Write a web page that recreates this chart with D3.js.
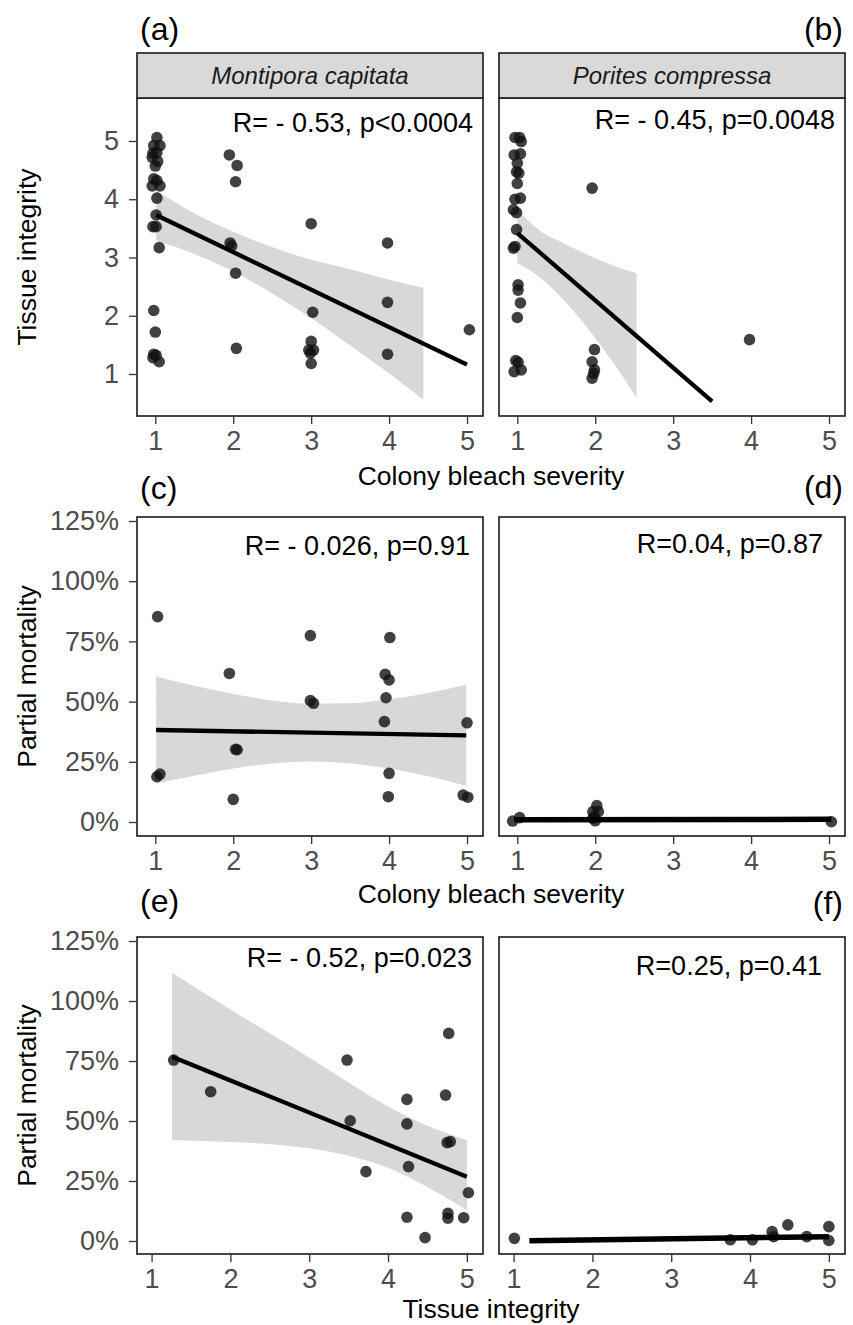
<!DOCTYPE html>
<html>
<head>
<meta charset="utf-8">
<script src="https://cdn.jsdelivr.net/npm/d3@7"></script>
<style>
  body { margin: 0; background: #fff; }
  svg text { font-family: "Liberation Sans", Arial, Helvetica, sans-serif; }
</style>
</head>
<body>
<div class="canvas"></div>
<script>
/////////////////////////////////////////////////////
////////// values ///////////////
/////////////////////////////////////////////////////

const severityTicks = [1, 2, 3, 4, 5];
const integrityTicks = [1, 2, 3, 4, 5];
const mortalityTicks = [0, 25, 50, 75, 100, 125];
const speciesNames = ['Montipora capitata', 'Porites compressa'];
const panelTags = ['(a)', '(b)', '(c)', '(d)', '(e)', '(f)'];
const statLabels = ['R= - 0.53, p<0.0004', 'R= - 0.45, p=0.0048', 'R= - 0.026, p=0.91',
                    'R=0.04, p=0.87', 'R= - 0.52, p=0.023', 'R=0.25, p=0.41'];

// (a) M. capitata : bleach severity (jittered) vs tissue integrity
const aSeverity = [1.02, 0.98, 1.06, 0.97, 1.02, 0.96, 1.03, 1.00, 0.98, 1.02, 0.96, 1.06, 1.02, 1.01, 0.97, 1.01, 1.05, 0.98, 1.00, 0.98, 1.01, 0.97, 1.05,
                   1.95, 2.05, 2.03, 1.96, 1.98, 2.03, 2.04, 3.00, 3.02, 3.00, 2.97, 3.03, 2.99, 3.00, 3.98, 3.98, 3.98, 5.03];
const aIntegrity = [5.06, 4.92, 4.92, 4.79, 4.80, 4.72, 4.65, 4.57, 4.35, 4.32, 4.23, 4.23, 4.02, 3.73, 3.53, 3.53, 3.17, 2.09, 1.72, 1.34, 1.32, 1.28, 1.21,
                    4.76, 4.58, 4.30, 3.25, 3.20, 2.73, 1.44, 3.58, 2.06, 1.56, 1.41, 1.41, 1.36, 1.18, 3.25, 2.23, 1.34, 1.76];
const aFitX = [1.01, 5.00], aFitY = [3.73, 1.16];
const aBandX = [1.01, 1.5, 2, 2.5, 3, 3.5, 4, 4.44];
const aBandLo = [3.29, 3.06, 2.76, 2.38, 1.96, 1.49, 1.01, 0.56];
const aBandHi = [4.15, 3.76, 3.44, 3.18, 2.96, 2.80, 2.62, 2.48];

// (b) P. compressa : bleach severity vs tissue integrity
const bSeverity = [0.97, 1.03, 1.05, 0.96, 1.04, 1.00, 0.99, 1.02, 1.00, 0.97, 1.04, 0.95, 0.99, 0.99, 0.95, 0.97, 1.01, 1.01, 1.04, 1.00, 0.98, 1.01, 0.96, 1.05,
                   1.96, 1.99, 1.96, 1.99, 1.98, 1.96, 3.98];
const bIntegrity = [5.06, 5.06, 4.99, 4.76, 4.78, 4.62, 4.47, 4.45, 4.27, 4.00, 4.02, 3.82, 3.77, 3.48, 3.16, 3.19, 2.53, 2.44, 2.22, 1.97, 1.23, 1.20, 1.04, 1.07,
                    4.19, 1.42, 1.21, 1.07, 1.01, 0.93, 1.59];
const bFitX = [1.00, 3.50], bFitY = [3.42, 0.53];
const bBandX = [1.0, 1.28, 1.63, 2.05, 2.3, 2.53];
const bBandLo = [2.90, 2.67, 2.22, 1.53, 1.06, 0.59];
const bBandHi = [3.82, 3.47, 3.22, 2.96, 2.83, 2.73];

// (c) M. capitata : bleach severity vs partial mortality (%)
const cSeverity = [1.03, 1.02, 1.06, 1.95, 2.03, 2.05, 2.00, 2.99, 2.99, 3.03, 4.01, 3.95, 4.00, 3.96, 3.94, 4.00, 3.99, 5.00, 4.95, 5.01];
const cMortality = [85.3, 18.8, 19.9, 61.7, 30.2, 30.0, 9.4, 77.4, 50.4, 49.3, 76.6, 61.3, 59.0, 51.6, 41.7, 20.2, 10.5, 41.2, 11.2, 10.3];
const cFitX = [1.01, 4.99], cFitY = [38.2, 36.0];
const cBandX = [1.01, 1.5, 2, 2.5, 3, 3.5, 4, 4.5, 4.99];
const cBandLo = [16.0, 19.2, 22.2, 24.3, 25.1, 24.3, 22.2, 19.0, 15.0];
const cBandHi = [60.4, 56.6, 53.2, 50.5, 49.1, 49.3, 51.0, 53.6, 57.1];

// (d) P. compressa : bleach severity vs partial mortality (%)
const dSeverity = [0.94, 1.03, 2.02, 1.97, 2.04, 1.99, 1.97, 2.00, 5.03];
const dMortality = [0.4, 1.8, 6.8, 4.3, 4.3, 2.2, 1.5, 0.5, 0.1];
const dFitX = [0.96, 5.03], dFitY = [0.9, 1.1];

// (e) M. capitata : tissue integrity vs partial mortality (%)
const eIntegrity = [1.28, 1.75, 3.48, 3.52, 3.72, 4.24, 4.24, 4.26, 4.24, 4.47, 4.77, 4.73, 4.75, 4.79, 4.76, 4.76, 4.96, 5.02];
const eMortality = [75.4, 62.2, 75.4, 50.1, 28.9, 59.0, 48.8, 31.0, 9.9, 1.4, 86.5, 60.8, 41.0, 41.4, 11.5, 9.5, 9.7, 20.1];
const eFitX = [1.26, 5.00], eFitY = [76.8, 26.8];
const eBandX = [1.26, 2.0, 2.55, 3.0, 3.5, 4.0, 4.5, 5.0];
const eBandLo = [42.1, 41.2, 40.2, 38.6, 35.5, 30.5, 22.5, 12.9];
const eBandHi = [111.8, 96.5, 85.5, 76.5, 66, 56, 48, 42.1];

// (f) P. compressa : tissue integrity vs partial mortality (%)
const fIntegrity = [1.01, 3.75, 4.03, 4.28, 4.30, 4.48, 4.72, 5.00, 5.00];
const fMortality = [1.1, 0.5, 0.5, 3.9, 1.8, 6.7, 1.8, 6.0, 0.2];
const fFitX = [1.20, 5.00], fFitY = [0.1, 1.8];

/////////////////////////////////////////////////////
////////////////// layout ///////////////////////////
/////////////////////////////////////////////////////
const dims = { width: 853, height: 1325 };
const colX = [137, 499];           // left edge of each panel column
const pw = 346;                    // panel width
const rows = [
    { top: 98, bottom: 416 },
    { top: 517, bottom: 836 },
    { top: 937, bottom: 1254 }
];

const svg = d3.select('.canvas')
    .append('svg')
    .attr('width', dims.width)
    .attr('height', dims.height);

const zip = (xs, ys) => xs.map((x, i) => ({ x, y: ys[i] }));
const band = (xs, lo, hi) => xs.map((x, i) => ({ x, lo: lo[i], hi: hi[i] }));

// panel specs built from the arrays above
const panels = [
    { row: 0, col: 0, xDom: [0.765, 5.205], yDom: [0.279, 5.738], yTicks: integrityTicks, pct: false,
      pts: zip(aSeverity, aIntegrity), fit: zip(aFitX, aFitY), band: band(aBandX, aBandLo, aBandHi),
      stat: [473, 132], tag: [140, 40, 'start'], lw: 4.3 },
    { row: 0, col: 1, xDom: [0.765, 5.205], yDom: [0.279, 5.738], yTicks: null, pct: false,
      pts: zip(bSeverity, bIntegrity), fit: zip(bFitX, bFitY), band: band(bBandX, bBandLo, bBandHi),
      stat: [835, 129], tag: [843, 40, 'end'], lw: 4.3 },
    { row: 1, col: 0, xDom: [0.765, 5.205], yDom: [-5.81, 126.66], yTicks: mortalityTicks, pct: true,
      pts: zip(cSeverity, cMortality), fit: zip(cFitX, cFitY), band: band(cBandX, cBandLo, cBandHi),
      stat: [470, 555], tag: [140, 499, 'start'], lw: 4.3 },
    { row: 1, col: 1, xDom: [0.765, 5.205], yDom: [-5.81, 126.66], yTicks: null, pct: true,
      pts: zip(dSeverity, dMortality), fit: zip(dFitX, dFitY), band: null,
      stat: [823, 553], tag: [843, 498, 'end'], lw: 5.5 },
    { row: 2, col: 0, xDom: [0.815, 5.205], yDom: [-5.42, 126.67], yTicks: mortalityTicks, pct: true,
      pts: zip(eIntegrity, eMortality), fit: zip(eFitX, eFitY), band: band(eBandX, eBandLo, eBandHi),
      stat: [472, 967], tag: [140, 912, 'start'], lw: 4.3 },
    { row: 2, col: 1, xDom: [0.815, 5.205], yDom: [-5.42, 126.67], yTicks: null, pct: true,
      pts: zip(fIntegrity, fMortality), fit: zip(fFitX, fFitY), band: null,
      stat: [822, 975], tag: [843, 914, 'end'], lw: 5.5 }
];

panels.forEach((p, i) => {
    const r = rows[p.row];
    const x0 = colX[p.col];
    const x = d3.scaleLinear().domain(p.xDom).range([x0, x0 + pw]);
    const y = d3.scaleLinear().domain(p.yDom).range([r.bottom, r.top]);
    const g = svg.append('g');

    // clip to panel
    const clipId = 'clip' + i;
    svg.append('clipPath').attr('id', clipId)
        .append('rect').attr('x', x0).attr('y', r.top).attr('width', pw).attr('height', r.bottom - r.top);
    const inner = g.append('g').attr('clip-path', `url(#${clipId})`);

    // confidence ribbon
    if (p.band) {
        const area = d3.area()
            .x(d => x(d.x)).y0(d => y(d.lo)).y1(d => y(d.hi))
            .curve(d3.curveMonotoneX);
        inner.append('path').datum(p.band)
            .attr('d', area)
            .attr('fill', '#999999')
            .attr('fill-opacity', 0.38);
    }

    // points
    inner.selectAll('circle').data(p.pts).enter()
        .append('circle')
        .attr('cx', d => x(d.x))
        .attr('cy', d => y(d.y))
        .attr('r', 5.8)
        .attr('fill', '#111')
        .attr('fill-opacity', 0.8);

    // fitted line
    inner.append('path').datum(p.fit)
        .attr('d', d3.line().x(d => x(d.x)).y(d => y(d.y)))
        .attr('fill', 'none')
        .attr('stroke', '#000')
        .attr('stroke-width', p.lw);

    // panel border
    g.append('rect')
        .attr('x', x0).attr('y', r.top).attr('width', pw).attr('height', r.bottom - r.top)
        .attr('fill', 'none').attr('stroke', '#1a1a1a').attr('stroke-width', 1.6);

    // x axis
    const xAxis = g.append('g')
        .attr('transform', `translate(0, ${r.bottom})`)
        .call(d3.axisBottom(x).tickValues(p.row === 2 ? integrityTicks : severityTicks)
            .tickSize(8).tickPadding(7).tickFormat(d3.format('d')));
    styleAxis(xAxis);

    // y axis (left column only)
    if (p.yTicks) {
        const yAxis = g.append('g')
            .attr('transform', `translate(${x0}, 0)`)
            .call(d3.axisLeft(y).tickValues(p.yTicks).tickSize(8).tickPadding(10)
                .tickFormat(d => p.pct ? d + '%' : d));
        styleAxis(yAxis);
    }

    // correlation label
    g.append('text')
        .attr('x', p.stat[0]).attr('y', p.stat[1])
        .attr('text-anchor', 'end')
        .attr('font-size', 27)
        .attr('fill', '#000')
        .text(statLabels[i]);

    // panel tag
    svg.append('text')
        .attr('x', p.tag[0]).attr('y', p.tag[1])
        .attr('text-anchor', p.tag[2])
        .attr('font-size', 32)
        .attr('fill', '#000')
        .text(panelTags[i]);
});

function styleAxis(ax) {
    ax.select('.domain').remove();
    ax.selectAll('.tick line').attr('stroke', '#333').attr('stroke-width', 1.3);
    ax.selectAll('.tick text')
        .attr('fill', '#4d4d4d')
        .style('font-size', '27px')
        .style('font-family', '"Liberation Sans", Arial, Helvetica, sans-serif');
}

// facet strips on the top row
speciesNames.forEach((name, i) => {
    svg.append('rect')
        .attr('x', colX[i]).attr('y', 53).attr('width', pw).attr('height', 45)
        .attr('fill', '#d9d9d9').attr('stroke', '#1a1a1a').attr('stroke-width', 1.6);
    svg.append('text')
        .attr('x', colX[i] + pw / 2).attr('y', 84)
        .attr('text-anchor', 'middle')
        .attr('font-size', 24)
        .attr('font-style', 'italic')
        .attr('fill', '#1a1a1a')
        .text(name);
});

// axis titles
const xTitles = [
    { text: 'Colony bleach severity', y: 485 },
    { text: 'Colony bleach severity', y: 903 },
    { text: 'Tissue integrity', y: 1318 }
];
xTitles.forEach(t => {
    svg.append('text')
        .attr('x', 491).attr('y', t.y)
        .attr('text-anchor', 'middle')
        .attr('font-size', 26.5)
        .attr('fill', '#000')
        .text(t.text);
});

const yTitles = [
    { text: 'Tissue integrity', cy: 257 },
    { text: 'Partial mortality', cy: 676.5 },
    { text: 'Partial mortality', cy: 1095.5 }
];
yTitles.forEach(t => {
    svg.append('text')
        .attr('transform', `translate(36, ${t.cy}) rotate(-90)`)
        .attr('text-anchor', 'middle')
        .attr('font-size', 26.5)
        .attr('fill', '#000')
        .text(t.text);
});
</script>
</body>
</html>
